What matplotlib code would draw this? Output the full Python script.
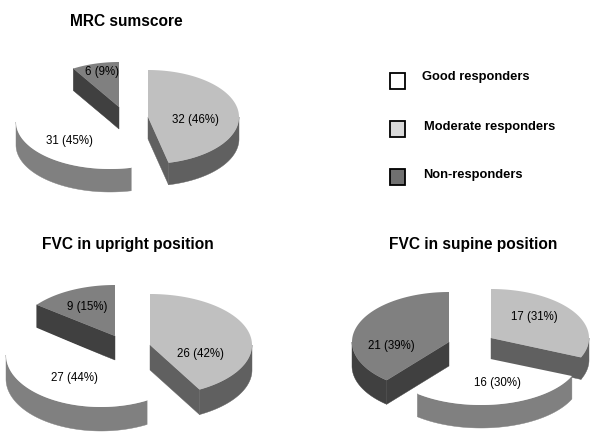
import numpy as np
import matplotlib
matplotlib.use("Agg")
import matplotlib.pyplot as plt
from matplotlib.patches import Polygon, Rectangle

plt.rcParams['font.family'] = ['Liberation Sans', 'DejaVu Sans']

# data: order is the clockwise order from 12 o'clock
mrc_counts = [32, 31, 6]
upright_counts = [26, 27, 9]
supine_counts = [17, 16, 21]
mrc_labels = ['32 (46%)', '31 (45%)', '6 (9%)']
upright_labels = ['26 (42%)', '27 (44%)', '9 (15%)']
supine_labels = ['17 (31%)', '16 (30%)', '21 (39%)']
groups = ['mod', 'good', 'non']
legend_names = ['Good responders', 'Moderate responders', 'Non-responders']

FACE = {'good': '#ffffff', 'mod': '#c0c0c0', 'non': '#808080'}
WALL = {'good': '#808080', 'mod': '#606060', 'non': '#404040'}
LEGEND_FILL = ['#ffffff', '#d9d9d9', '#707070']

fig = plt.figure(figsize=(6, 4.38), dpi=100)
ax = fig.add_axes([0, 0, 1, 1])
ax.set_xlim(0, 600)
ax.set_ylim(438, 0)
ax.axis('off')


def rim(cx, cy, rx, ry, a0, a1):
    t = np.radians(np.linspace(a0, a1, 120))
    return np.column_stack([cx + rx * np.sin(t), cy - ry * np.cos(t)])


def wedge(geom, a0, a1, group, z):
    cx, cy, rx, ry, d = geom
    shift = np.array([0, d])
    apex = np.array([[cx, cy]])
    wall_kw = dict(facecolor=WALL[group], edgecolor=WALL[group], linewidth=0.3, zorder=z)
    # only the front of the outer rim can be seen
    lo, hi = max(a0, 90), min(a1, 270)
    if hi > lo:
        front = rim(cx, cy, rx, ry, lo, hi)
        ax.add_patch(Polygon(np.vstack([front, (front + shift)[::-1]]), **wall_kw))
    # a cut face is seen only when it turns towards the viewer
    for ang, seen in ((a0, np.sin(np.radians(a0)) < -1e-9),
                      (a1, np.sin(np.radians(a1)) > 1e-9)):
        if seen:
            p = rim(cx, cy, rx, ry, ang, ang)[0]
            quad = np.vstack([apex, [p], [p + shift], apex + shift])
            ax.add_patch(Polygon(quad, **wall_kw))
    arc = rim(cx, cy, rx, ry, a0, a1)
    ax.add_patch(Polygon(np.vstack([apex, arc]), facecolor=FACE[group],
                         edgecolor='none', zorder=z + 0.5))


def pie(counts, labels, geoms, label_xy, order):
    total = sum(counts)
    edges = np.concatenate([[0], np.cumsum(counts)]) / total * 360
    for i in order:
        wedge(geoms[i], edges[i], edges[i + 1], groups[i], order.index(i) + 1)
    for lab, (x, y) in zip(labels, label_xy):
        ax.text(x, y, lab, fontsize=8.3, ha='center', va='center',
                color='black', zorder=10)


# layout: wedge apex x, apex y, radii, thickness
pie(mrc_counts, mrc_labels,
    [(148, 117, 91, 47, 22), (110, 122, 94, 47, 23), (119, 107, 88, 45, 22)],
    [(195, 120), (69, 141), (102, 72)], [2, 0, 1])
pie(upright_counts, upright_labels,
    [(150, 345, 102, 51, 25), (101, 355, 95, 52, 24), (115, 336, 99, 51, 24)],
    [(200, 354), (74, 378), (87, 307)], [2, 0, 1])
pie(supine_counts, supine_labels,
    [(491, 338, 98, 49, 22), (481, 357, 99, 48, 23), (449, 342, 97, 50, 24)],
    [(534, 317), (497, 383), (391, 346)], [0, 1, 2])

ax.text(126, 21, 'MRC sumscore', fontsize=11.2, fontweight='bold', ha='center', va='center')
ax.text(127.5, 245, 'FVC in upright position', fontsize=11.2, fontweight='bold', ha='center', va='center')
ax.text(473, 244, 'FVC in supine position', fontsize=11.2, fontweight='bold', ha='center', va='center')

for name, fill, y, tx, ty in zip(legend_names, LEGEND_FILL, [72, 120, 168],
                                 [422, 424, 423], [77, 127, 175]):
    ax.add_patch(Rectangle((390, y + 0.5), 15, 16, facecolor=fill, edgecolor='black', linewidth=1.3, zorder=5))
    ax.text(tx, ty, name, fontsize=9.3, fontweight='bold', ha='left', va='center')

fig.savefig('out.png', dpi=100, facecolor='white')
